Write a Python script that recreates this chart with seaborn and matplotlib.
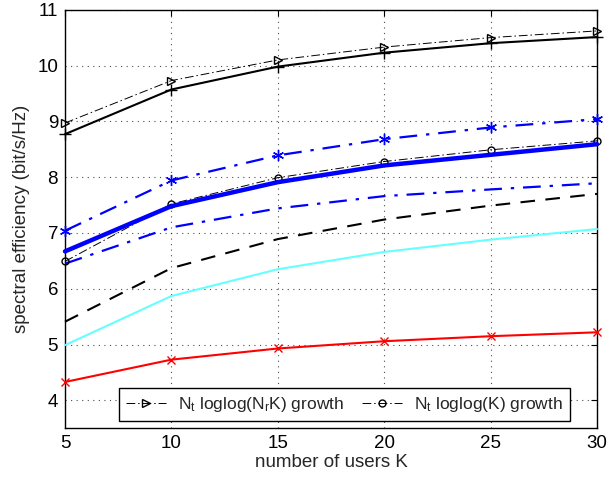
import matplotlib
matplotlib.use("Agg")
import matplotlib.pyplot as plt
import numpy as np
import pandas as pd
import seaborn as sns

# number of users
users = [5, 10, 15, 20, 25, 30]

# spectral efficiency curves (bit/s/Hz)
growth_nrk = [8.97, 9.73, 10.10, 10.33, 10.50, 10.62]
black_plus = [8.77, 9.57, 9.98, 10.23, 10.40, 10.51]
blue_star = [7.04, 7.94, 8.39, 8.68, 8.89, 9.04]
blue_thick = [6.67, 7.48, 7.91, 8.21, 8.40, 8.59]
growth_k = [6.49, 7.52, 7.99, 8.28, 8.49, 8.65]
blue_dashdot = [6.45, 7.10, 7.44, 7.66, 7.78, 7.89]
black_dashed = [5.41, 6.37, 6.89, 7.24, 7.49, 7.70]
cyan_line = [4.99, 5.87, 6.35, 6.66, 6.88, 7.07]
red_cross = [4.33, 4.73, 4.93, 5.06, 5.15, 5.22]

legend_labels = [r"N$_\mathrm{t}$ loglog(N$_\mathrm{r}$K) growth",
                 r"N$_\mathrm{t}$ loglog(K) growth"]

x_ticks = [5, 10, 15, 20, 25, 30]
y_ticks = [4, 5, 6, 7, 8, 9, 10, 11]

sns.set_style("white")
plt.rcParams["font.family"] = ["Liberation Sans", "DejaVu Sans"]
plt.rcParams["mathtext.fontset"] = "custom"
plt.rcParams["mathtext.rm"] = "Liberation Sans"
plt.rcParams["mathtext.it"] = "Liberation Sans:italic"

fig = plt.figure(figsize=(6.16, 4.78), dpi=100)
ax = fig.add_axes([65 / 616, 1 - 428.3 / 478, 532 / 616, 418.6 / 478])

asterisk = (6, 2, 0)
dashdot = (9, 3, 1.5, 3)

def draw(y, color, lw, marker=None, ms=6, label=None, mfc="none"):
    sns.lineplot(x=users, y=y, ax=ax, color=color, linewidth=lw,
                 marker=marker, markersize=ms, markerfacecolor=mfc,
                 markeredgecolor=color, markeredgewidth=1.0,
                 legend=False, clip_on=False, zorder=3)
    line = ax.lines[-1]
    if label is not None:
        line.set_label(label)
    return line

draw(red_cross, "#ff0000", 1.5, marker="x", ms=6)
draw(cyan_line, "#66ffff", 1.5)
l_dashed = draw(black_dashed, "black", 1.5)
l_dashed.set_dashes((7, 5))
l_bd = draw(blue_dashdot, "#0000ff", 1.6)
l_bd.set_dashes((8, 4, 1.5, 4))
l_k = draw(growth_k, "black", 0.7, marker="o", ms=5, label=legend_labels[1])
l_k.set_dashes(dashdot)
draw(blue_thick, "#0000ff", 3.2)
l_bs = draw(blue_star, "#0000ff", 1.6, marker=asterisk, ms=8, mfc="#0000ff")
l_bs.set_dashes((8, 4, 1.5, 4))
draw(black_plus, "black", 1.5, marker="+", ms=8)
l_nrk = draw(growth_nrk, "black", 0.7, marker=">", ms=6, label=legend_labels[0])
l_nrk.set_dashes(dashdot)

ax.set_xlim(5, 30)
ax.set_ylim(3.5, 11)
ax.set_xticks(x_ticks)
ax.set_yticks(y_ticks)
ax.tick_params(direction="in", length=4, width=0.8, top=True, right=True,
               labelsize=13.5, colors="black", pad=5)
ax.grid(True, linestyle=(0, (1, 4)), color="black", linewidth=0.8, alpha=0.7)
for sp in ax.spines.values():
    sp.set_visible(True)
    sp.set_color("black")
    sp.set_linewidth(1.0)

ax.set_xlabel("number of users K", fontsize=13.5, labelpad=1)
ax.set_ylabel("spectral efficiency (bit/s/Hz)", fontsize=13.5, labelpad=5)

leg = ax.legend(handles=[l_nrk, l_k], labels=legend_labels, ncol=2,
                loc="lower left", bbox_to_anchor=(0.1015, 0.0174, 0.848, 0.091),
                mode="expand", frameon=True, fancybox=False, fontsize=12.5,
                handlelength=2.3, columnspacing=1.2, borderaxespad=0,
                handletextpad=0.7, borderpad=0.4)
leg.get_frame().set_edgecolor("black")
leg.get_frame().set_linewidth(1.0)
leg.get_frame().set_alpha(1.0)

fig.savefig("out.png", dpi=100)
